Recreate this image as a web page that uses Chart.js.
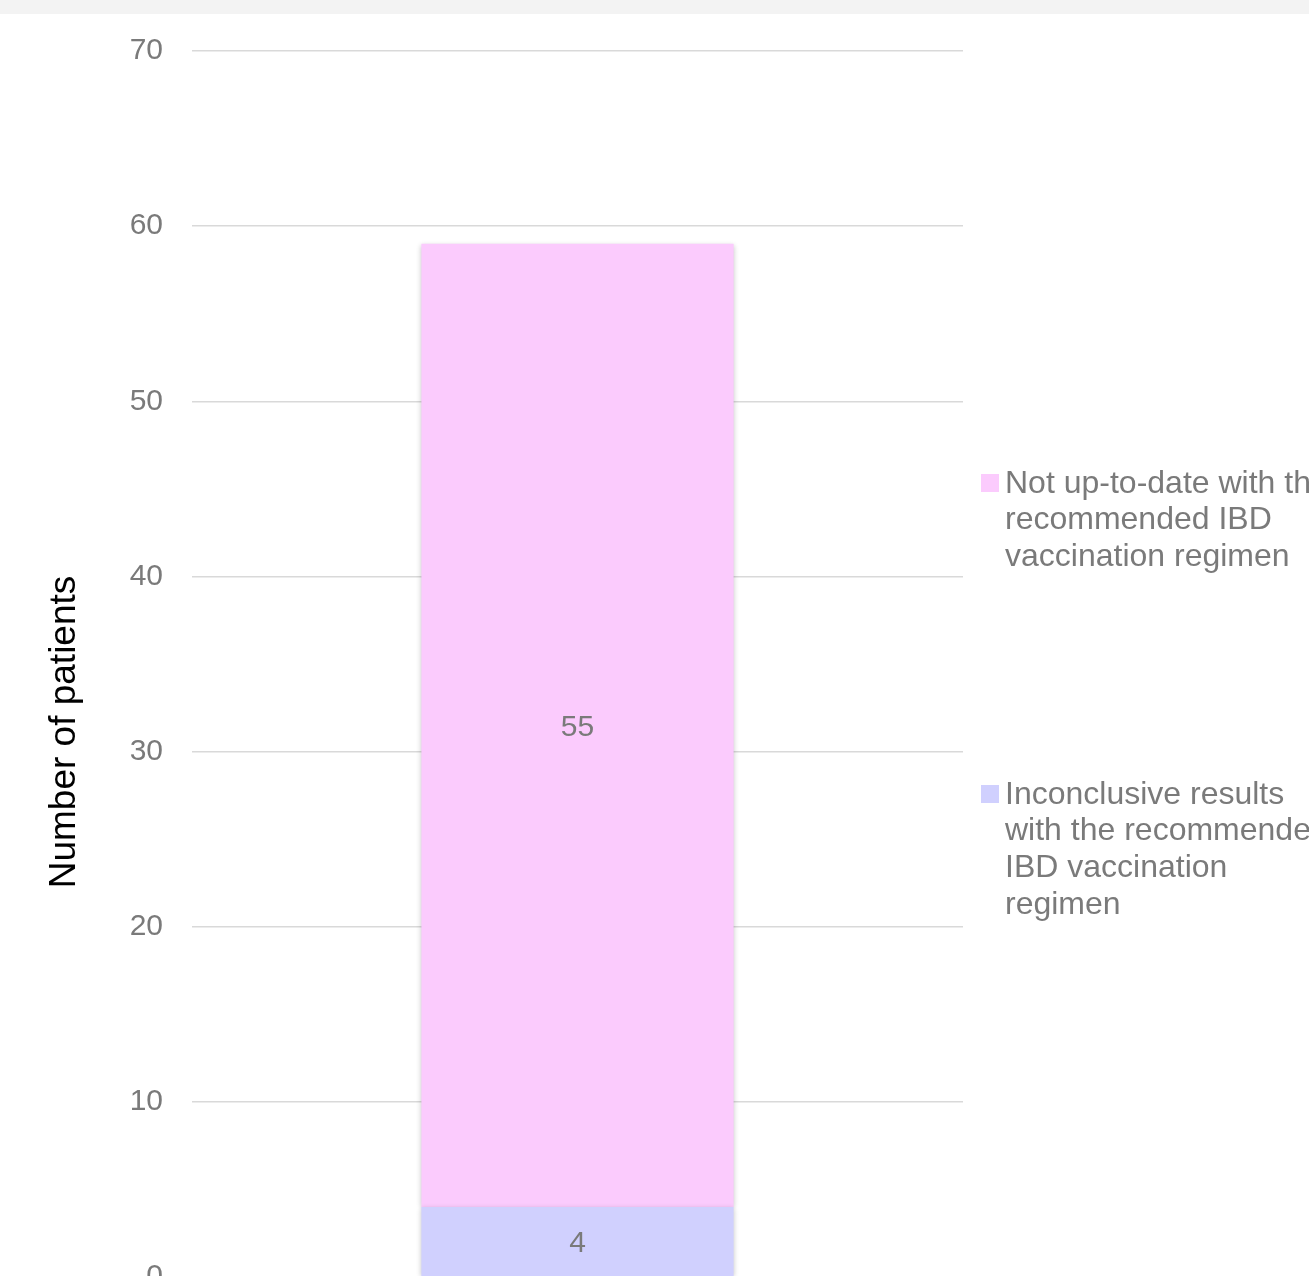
<!DOCTYPE html>
<html>
<head>
<meta charset="utf-8">
<script src="https://cdn.jsdelivr.net/npm/chart.js"></script>
<style>
  html, body { margin: 0; padding: 0; background: #fff; overflow: hidden; width: 1309px; height: 1276px; }
  #band { position: absolute; left: 0; top: 0; width: 1309px; height: 14px; background: #f3f3f3; z-index: 2; }
  #wrap { position: absolute; left: 0; top: -9px; width: 1400px; height: 1346px; z-index: 1; }
</style>
</head>
<body>
<div id="band"></div>
<div id="wrap"><canvas id="myChart" width="1400" height="1346"></canvas></div>
<script>
// Data for the chart
const categories = [''];
const inconclusive = [4];
const notUpToDate = [55];
const seriesLabels = [
  ['Inconclusive results', 'with the recommended', 'IBD vaccination', 'regimen'],
  ['Not up-to-date with the', 'recommended IBD', 'vaccination regimen']
];
const seriesColors = ['#d0d0fe', '#fbcbfd'];
const yTicks = [0, 10, 20, 30, 40, 50, 60, 70];
const yTitle = 'Number of patients';

const FONT = 'Arial, "Liberation Sans", sans-serif';
const GREY = '#7a7a7a';
const TOP = -9; // canvas offset in the page

// soft shadow round the bars, like the original
const barShadow = {
  id: 'barShadow',
  beforeDatasetsDraw(chart) {
    const ctx = chart.ctx;
    ctx.save();
    ctx.shadowColor = 'rgba(0,0,0,0.22)';
    ctx.shadowBlur = 5;
    ctx.shadowOffsetX = 0;
    ctx.shadowOffsetY = 1;
  },
  afterDatasetsDraw(chart) {
    chart.ctx.restore();
  }
};

// value labels in the middle of each segment
const valueLabels = {
  id: 'valueLabels',
  afterDatasetsDraw(chart) {
    const ctx = chart.ctx;
    ctx.save();
    ctx.font = '30px ' + FONT;
    ctx.fillStyle = GREY;
    ctx.textAlign = 'center';
    ctx.textBaseline = 'middle';
    chart.data.datasets.forEach((ds, i) => {
      chart.getDatasetMeta(i).data.forEach((bar, j) => {
        ctx.fillText(ds.data[j], bar.x, (bar.y + bar.base) / 2 + 2);
      });
    });
    ctx.restore();
  }
};

// y title sits lower than the plot middle in the original (x labels are cropped off)
const axisTitle = {
  id: 'axisTitle',
  afterDraw(chart) {
    const ctx = chart.ctx;
    ctx.save();
    ctx.translate(65, 732 - TOP);
    ctx.rotate(-Math.PI / 2);
    ctx.font = '37px ' + FONT;
    ctx.fillStyle = '#000';
    ctx.textAlign = 'center';
    ctx.textBaseline = 'middle';
    ctx.fillText(yTitle, 0, 0);
    ctx.restore();
  }
};

// legend to the right, spread out the way the original has it
const sideLegend = {
  id: 'sideLegend',
  afterDraw(chart) {
    const ctx = chart.ctx;
    const x = chart.chartArea.right + 18;
    const order = [1, 0];
    const tops = [484 - TOP, 795 - TOP];
    ctx.save();
    ctx.font = '32px ' + FONT;
    ctx.textBaseline = 'middle';
    order.forEach((di, k) => {
      const ds = chart.data.datasets[di];
      const lines = seriesLabels[di];
      ctx.fillStyle = ds.backgroundColor;
      ctx.fillRect(x, tops[k] - 10, 18, 18);
      ctx.fillStyle = GREY;
      lines.forEach((ln, n) => {
        ctx.fillText(ln, x + 24, tops[k] + n * 36.6);
      });
    });
    ctx.restore();
  }
};

const data = {
  labels: categories,
  datasets: [{
    label: seriesLabels[0].join(' '),
    data: inconclusive,
    backgroundColor: seriesColors[0],
    barPercentage: 0.405,
    categoryPercentage: 1
  }, {
    label: seriesLabels[1].join(' '),
    data: notUpToDate,
    backgroundColor: seriesColors[1],
    barPercentage: 0.405,
    categoryPercentage: 1
  }]
};

const config = {
  type: 'bar',
  data: data,
  options: {
    responsive: false,
    animation: false,
    devicePixelRatio: 1,
    layout: { padding: { left: 0, top: 60, right: 1400 - 963, bottom: 60 } },
    plugins: {
      legend: { display: false },
      tooltip: { enabled: false }
    },
    scales: {
      x: { display: false, stacked: true },
      y: {
        stacked: true,
        min: 0,
        max: 70,
        afterBuildTicks(scale) {
          scale.ticks = yTicks.map(v => ({ value: v }));
        },
        afterFit(scale) { scale.width = 192; },
        border: { display: false },
        grid: { color: '#d9d9d9', lineWidth: 1.5, drawTicks: false },
        ticks: {
          padding: 29,
          color: GREY,
          font: { family: FONT, size: 30 }
        },
        title: { display: false }
      }
    }
  },
  plugins: [barShadow, valueLabels, axisTitle, sideLegend]
};

const myChart = new Chart(document.getElementById('myChart'), config);
</script>
</body>
</html>
